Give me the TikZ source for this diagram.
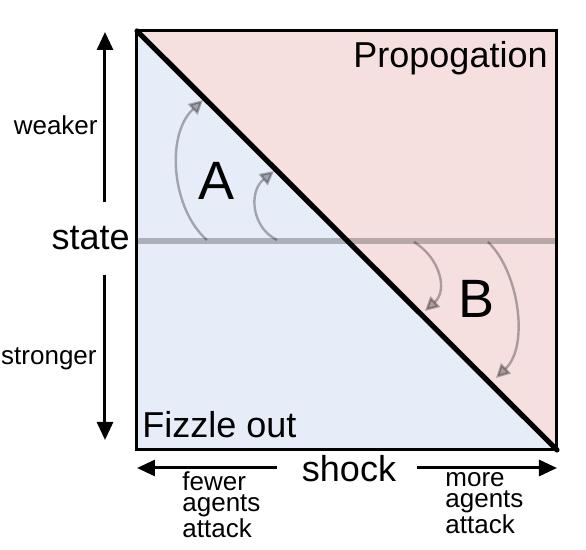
\documentclass[tikz,border=0pt]{standalone}
\usepackage{fontspec}
\setmainfont{Liberation Sans}
\usetikzlibrary{arrows.meta}
\definecolor{fizzleblue}{RGB}{230,236,248}
\definecolor{propopink}{RGB}{245,223,223}
\tikzset{
	axisarrow/.style={line width=1.5pt,-{Triangle[width=8pt,length=9pt]}},
	bendarrow/.style={line width=1.2pt,opacity=0.3,-{Triangle[width=7pt,length=7pt]}},
	lbl/.style={inner sep=0pt}
}
\newcommand{\fsz}[1]{\fontsize{#1}{#1}\selectfont}

\begin{document}
\begin{tikzpicture}[x=0.5pt,y=-0.5pt]
	\useasboundingbox (0,0) rectangle (586,550);
	% square corners
	\coordinate (tl) at (137,31);
	\coordinate (tr) at (557,31);
	\coordinate (bl) at (137,450);
	\coordinate (br) at (557,450);
	\fill[fizzleblue] (tl)--(bl)--(br)--cycle;
	\fill[propopink] (tl)--(tr)--(br)--cycle;
	% state line
	\coordinate (sl) at (137,241);
	\coordinate (sr) at (557,241);
	\draw[black,opacity=0.25,line width=3pt] (sl)--(sr);
	\draw[line width=1.5pt] (tl)--(tr)--(br)--(bl)--cycle;
	\draw[line width=2.6pt,line cap=round] (tl)--(br);
	% bending arrows
	\coordinate (a1s) at (207,240); \coordinate (a1e) at (203,100);
	\coordinate (a2s) at (277,240); \coordinate (a2e) at (274,171);
	\coordinate (b1s) at (414,242); \coordinate (b1e) at (425,311);
	\coordinate (b2s) at (488,242); \coordinate (b2e) at (496,378);
	\draw[bendarrow] (a1s) .. controls (172,210) and (165,135) .. (a1e);
	\draw[bendarrow] (a2s) .. controls (252,228) and (248,192) .. (a2e);
	\draw[bendarrow] (b1s) .. controls (440,258) and (448,290) .. (b1e);
	\draw[bendarrow] (b2s) .. controls (518,270) and (530,345) .. (b2e);
	% labels in the square
	\node[lbl,anchor=base east] (prop) at (548,68) {\fsz{18}Propogation};
	\node[lbl,anchor=base west] (fizz) at (142,438) {\fsz{18}Fizzle out};
	\node[lbl,anchor=base] (A) at (217,200) {\fsz{27}A};
	\node[lbl,anchor=base] (B) at (477,318) {\fsz{27}B};
	% state axis
	\coordinate (su) at (105,202); \coordinate (sut) at (105,32);
	\coordinate (sd) at (105,275); \coordinate (sdt) at (105,440);
	\draw[axisarrow] (su)--(sut);
	\draw[axisarrow] (sd)--(sdt);
	\node[lbl,anchor=base east] (state) at (130,250) {\fsz{18}state};
	\node[lbl,anchor=base east] (weak) at (98,135) {\fsz{13}weaker};
	\node[lbl,anchor=base east] (strong) at (97,365) {\fsz{13}stronger};
	% shock axis
	\coordinate (kl) at (277,468); \coordinate (klt) at (137,468);
	\coordinate (kr) at (417,468); \coordinate (krt) at (557,468);
	\draw[axisarrow] (kl)--(klt);
	\draw[axisarrow] (kr)--(krt);
	\node[lbl,anchor=base] (shock) at (349,482) {\fsz{18}shock};
	\node[lbl,anchor=north west,align=left,font=\fontsize{13}{10.5}\selectfont]
		(fewer) at (182,471) {fewer\\agents\\attack};
	\node[lbl,anchor=north west,align=left,font=\fontsize{13}{10.5}\selectfont]
		(more) at (445,472) {more\\agents\\attack};
\end{tikzpicture}
\end{document}
